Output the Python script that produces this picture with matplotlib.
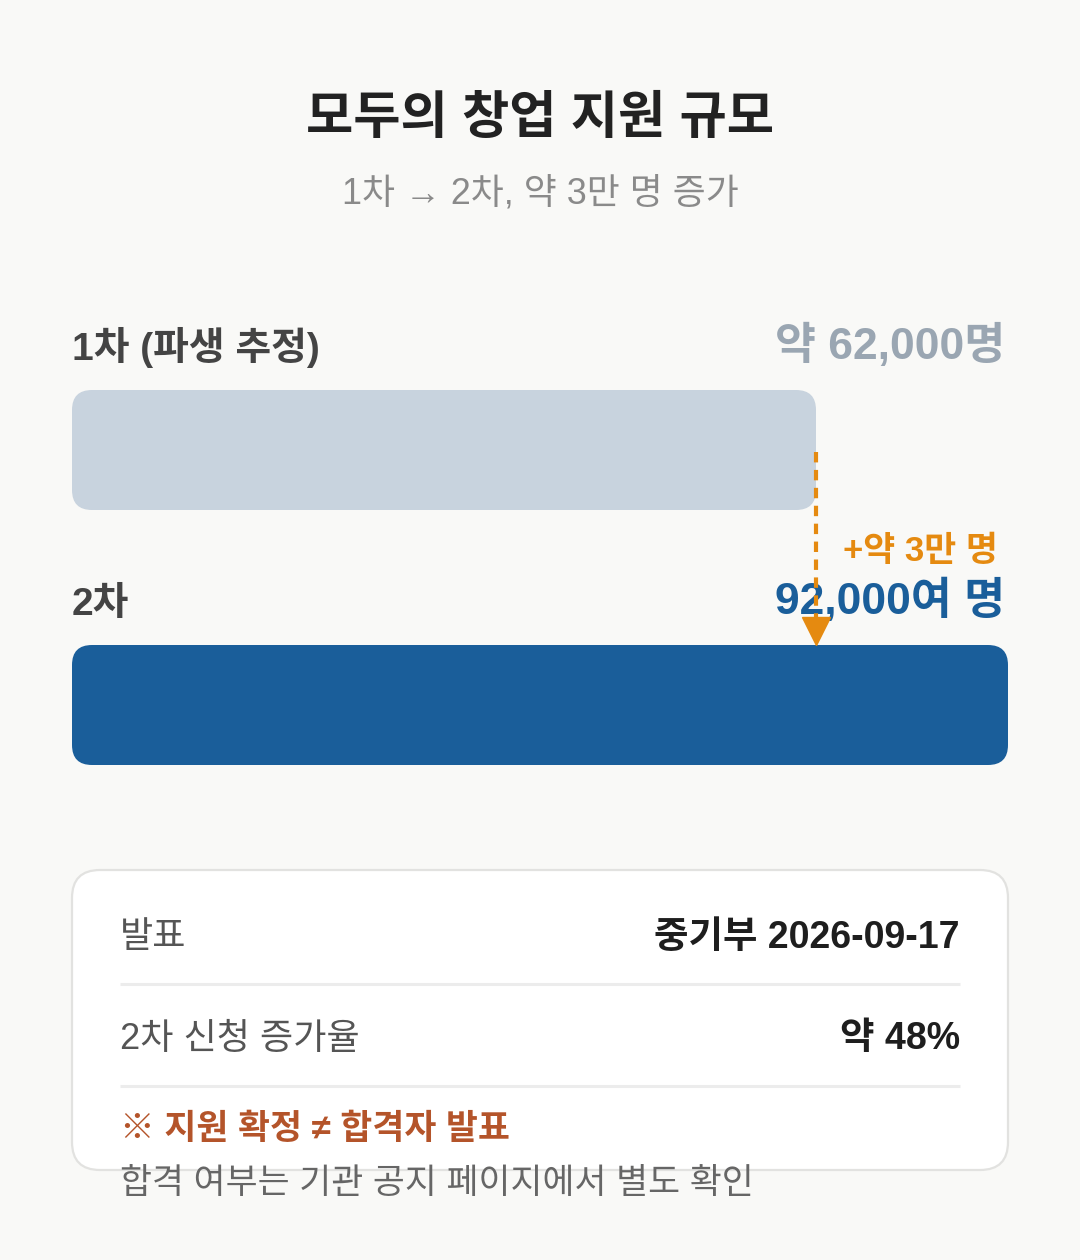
import matplotlib.pyplot as plt
from matplotlib.patches import FancyBboxPatch

plt.rcParams['font.family'] = ['Liberation Sans', 'Noto Sans CJK KR', 'DejaVu Sans']

# data
title = '모두의 창업 지원 규모'
subtitle = '1차 → 2차, 약 3만 명 증가'
rounds = ['1차 (파생 추정)', '2차']
applicants = [62000, 92000]
value_labels = ['약 62,000명', '92,000여 명']
diff_label = '+약 3만 명'
info_keys = ['발표', '2차 신청 증가율']
info_vals = ['중기부 2026-09-17', '약 48%']
note_title = '※ 지원 확정 ≠ 합격자 발표'
note_text = '합격 여부는 기관 공지 페이지에서 별도 확인'

bg = '#f9f9f7'
bar_colors = ['#c8d3de', '#1a5e9a']
value_colors = ['#9aa6b2', '#1a5e9a']
orange = '#e58a10'

W, H = 1080, 1260
fig = plt.figure(figsize=(W / 100, H / 100), dpi=100, facecolor=bg)

# full-figure axes in pixel units for text / card
ax = fig.add_axes([0, 0, 1, 1])
ax.set_xlim(0, W)
ax.set_ylim(H, 0)
ax.axis('off')

ax.text(540, 119, title, ha='center', va='center', fontsize=37,
        fontweight='bold', color='#222222')
ax.text(540, 194, subtitle, ha='center', va='center', fontsize=25.8,
        color='#8a8a8a')

# bar axes: left edge at px 72, right edge px 1008
bl, br, bt, bb = 72, 1008, 390, 765
bx = fig.add_axes([bl / W, (H - bb) / H, (br - bl) / W, (bb - bt) / H])
x0 = -54250  # visual baseline so both bars read well
bx.set_xlim(x0, max(applicants))
bx.set_ylim(bb, bt)
bx.axis('off')
bx.patch.set_alpha(0)

xu = (max(applicants) - x0) / (br - bl)  # data units per pixel
bar_tops = [390, 645]
bar_h = 120
label_y = [347, 605]
value_y = [346, 601]
for i in range(2):
    p = FancyBboxPatch((x0, bar_tops[i]), applicants[i] - x0, bar_h,
                       boxstyle='round,pad=0,rounding_size=%f' % (20 * xu),
                       mutation_aspect=1 / xu, facecolor=bar_colors[i],
                       edgecolor='none', zorder=2)
    bx.add_patch(p)
    ax.text(72, label_y[i], rounds[i], ha='left', va='center', fontsize=28,
            fontweight='bold', color='#444444')
    ax.text(1005, value_y[i], value_labels[i], ha='right', va='center',
            fontsize=32, fontweight='bold', color=value_colors[i])

# change marker from bar 1 end down to bar 2
bx.plot([applicants[0], applicants[0]], [452, 620], color=orange, lw=3,
        dashes=(2.5, 1.8), zorder=5, clip_on=False)
bx.plot([applicants[0]], [631], marker='v', markersize=20, color=orange,
        zorder=5, clip_on=False)
ax.text(998, 552, diff_label, ha='right', va='center', fontsize=25,
        fontweight='bold', color=orange)

# info card
card = FancyBboxPatch((72, 870), 936, 300,
                      boxstyle='round,pad=0,rounding_size=28',
                      facecolor='white', edgecolor='#e2e2e0', lw=1.6, zorder=1)
ax.add_patch(card)
row_y = [938, 1039]
line_y = [984, 1086]
for i in range(2):
    ax.text(120, row_y[i], info_keys[i], ha='left', va='center', fontsize=26,
            color='#555555', zorder=3)
    ax.text(960, row_y[i], info_vals[i], ha='right', va='center', fontsize=27,
            fontweight='bold', color='#1e1e1e', zorder=3)
    ax.plot([120, 960], [line_y[i], line_y[i]], color='#ececec',
            lw=2.2, solid_capstyle='butt', zorder=2)
ax.text(120, 1129, note_title, ha='left', va='center', fontsize=25,
        fontweight='bold', color='#b4542a', zorder=3)
ax.text(120, 1184, note_text, ha='left', va='center', fontsize=25,
        color='#666666', zorder=3)

plt.savefig('out.png', dpi=100, facecolor=bg)
